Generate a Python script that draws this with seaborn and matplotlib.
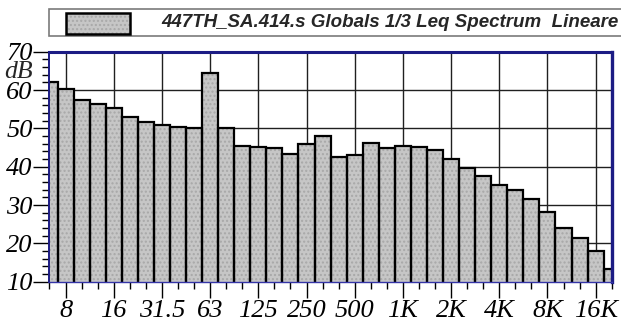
import matplotlib
matplotlib.use("Agg")
import matplotlib.pyplot as plt
from matplotlib.patches import Rectangle
import seaborn as sns
import pandas as pd

# ---- data ----
bands = ["6.3", "8", "10", "12.5", "16", "20", "25", "31.5", "40", "50",
         "63", "80", "100", "125", "160", "200", "250", "315", "400", "500",
         "630", "800", "1K", "1.25K", "1.6K", "2K", "2.5K", "3.15K", "4K", "5K",
         "6.3K", "8K", "10K", "12.5K", "16K", "20K"]
levels = [62.0, 60.2, 57.4, 56.3, 55.2, 53.0, 51.6, 50.9, 50.3, 50.1,
          64.4, 50.0, 45.4, 45.2, 44.9, 43.2, 45.9, 48.0, 42.4, 43.1,
          46.1, 45.0, 45.5, 45.1, 44.3, 42.1, 39.7, 37.7, 35.2, 33.9,
          31.5, 28.2, 24.0, 21.5, 18.0, 13.3]
tick_labels = ["8", "16", "31.5", "63", "125", "250", "500", "1K", "2K", "4K", "8K", "16K"]
y_ticks = [10, 20, 30, 40, 50, 60, 70]
series_name = "447TH_SA.414.s Globals 1/3 Leq Spectrum  Lineare"
unit_label = "dB"

df = pd.DataFrame({"band": bands, "level": levels})

sns.set_style("white")
plt.rcParams["font.family"] = ["Liberation Serif", "DejaVu Serif"]
plt.rcParams["font.style"] = "italic"

W, H = 621, 322
fig = plt.figure(figsize=(W / 100, H / 100), dpi=100)
ax = fig.add_axes([49.5 / W, 1 - 281.7 / H, (611.7 - 49.5) / W, (281.7 - 51.7) / H])

navy = "#1c1c84"

# hatched fill layer
sns.barplot(data=df, x="band", y="level", order=bands, ax=ax, width=1.0,
            color="#c6c6c6", saturation=1, edgecolor="#a8a8a8", linewidth=0,
            hatch="....", zorder=2)
# outline layer
sns.barplot(data=df, x="band", y="level", order=bands, ax=ax, width=1.0,
            facecolor="none", edgecolor="black", linewidth=1.6, zorder=3)

ax.set_xlim(0, len(bands) - 1)
ax.set_ylim(10, 70)

major_idx = [bands.index(t) for t in tick_labels]
minor_idx = [i for i in range(len(bands)) if i not in major_idx]
ax.set_xticks(major_idx)
ax.set_xticklabels(tick_labels)
ax.set_xticks(minor_idx, minor=True)
ax.set_yticks(y_ticks)
ax.set_yticklabels([str(v) for v in y_ticks])
ax.set_yticks([v for v in range(10, 71, 2) if v not in y_ticks], minor=True)

ax.set_xlabel("")
ax.set_ylabel("")

ax.grid(True, which="major", color="#202020", linewidth=1.0, zorder=1)
ax.set_axisbelow(True)

serif = ["Liberation Serif", "DejaVu Serif"]
for lab in ax.get_xticklabels() + ax.get_yticklabels():
    lab.set_fontfamily(serif)
    lab.set_fontstyle("italic")
    lab.set_fontsize(19)
    lab.set_color("black")

ax.tick_params(axis="both", which="major", direction="out", length=11.5, width=1.0,
               color="black", pad=0.5)
ax.tick_params(axis="both", which="minor", direction="out", length=5, width=1.0,
               color="black")
ax.tick_params(axis="x", which="major", pad=1.5)
ax.tick_params(left=True, bottom=True, which="both")

for side, lw in [("left", 1.4), ("top", 2.2), ("right", 2.4), ("bottom", 1.0)]:
    ax.spines[side].set_visible(True)
    ax.spines[side].set_color(navy if side != "bottom" else "#3535a8")
    ax.spines[side].set_linewidth(lw)
    ax.spines[side].set_zorder(5)

# unit label
fig.text(19 / W, 1 - 72 / H, unit_label, ha="center", va="center",
         fontfamily=serif, fontstyle="italic", fontsize=18.5)

# legend box
fig.add_artist(Rectangle((49.3 / W, 1 - 36 / H), 600 / W, 26.7 / H, transform=fig.transFigure,
                         facecolor="white", edgecolor="#7a7a7a", linewidth=1.2))
fig.add_artist(Rectangle((66 / W, 1 - 34 / H), 64 / W, 21.3 / H, transform=fig.transFigure,
                         facecolor="#c6c6c6", edgecolor="#a8a8a8", linewidth=0, hatch="...."))
fig.add_artist(Rectangle((66 / W, 1 - 34 / H), 64 / W, 21.3 / H, transform=fig.transFigure,
                         facecolor="none", edgecolor="black", linewidth=1.8))
fig.text(161 / W, 1 - 22.5 / H, series_name, ha="left", va="center",
         fontfamily=["Liberation Sans", "DejaVu Sans"], fontweight="bold",
         fontstyle="italic", fontsize=13.5)

fig.savefig("out.png", dpi=100)
